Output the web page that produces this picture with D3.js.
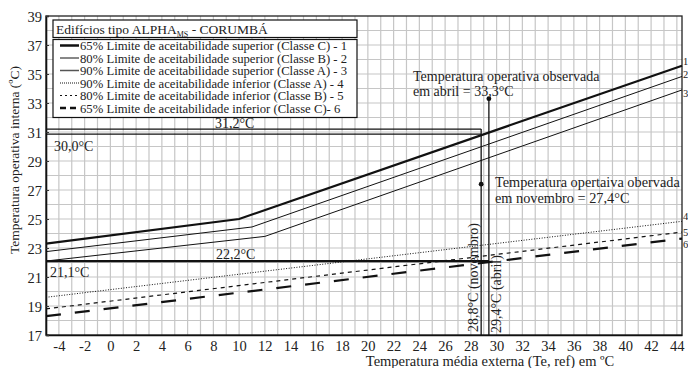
<!DOCTYPE html>
<html><head><meta charset="utf-8">
<script src="https://cdn.jsdelivr.net/npm/d3@7"></script>
<style>
html,body{margin:0;padding:0;background:#fff;}
svg{display:block;font-family:"Liberation Serif","Times New Roman",serif;}
</style></head>
<body><svg id="c" width="688" height="368"></svg>
<script>
// ---- data ----
const xDomain = [-5, 44.4];
const yDomain = [17, 39];
const xTicks = [-4,-2,0,2,4,6,8,10,12,14,16,18,20,22,24,26,28,30,32,34,36,38,40,42,44];
const yTicks = [17,19,21,23,25,27,29,31,33,35,37,39];
const seriesNames = [
  "65% Limite de aceitabilidade superior (Classe C) - 1",
  "80% Limite de aceitabilidade superior (Classe B) - 2",
  "90% Limite de aceitabilidade superior (Classe A) - 3",
  "90% Limite de aceitabilidade inferior (Classe A) - 4",
  "80% Limite de aceitabilidade inferior (Classe B) - 5",
  "65% Limite de aceitabilidade inferior (Classe C)- 6"
];
const endLabels = ["1","2","3","4","5","6"];
const s1Te = [-5, 10, 44.4], s1T = [23.3, 25.0, 35.57];
const s2Te = [-5, 11, 44.4], s2T = [22.75, 24.45, 34.83];
const s3Te = [-5, 12, 44.4], s3T = [22.1, 23.8, 33.9];
const s4Te = [-5, 44.4], s4T = [19.6, 24.84];
const s5Te = [-5, 44.4], s5T = [18.8, 24.1];
const s6Te = [-5, 44.4], s6T = [18.3, 23.65];
const obsTe = [28.8, 29.4];           // novembro, abril
const obsT = [27.4, 33.3];
const refLevels = [31.2, 30.85, 22.1];
const refEnds = [28.8, 28.8, 29.4];

// ---- setup ----
const svg = d3.select("#c");
const x = d3.scaleLinear().domain(xDomain).range([46, 682]);
const y = d3.scaleLinear().domain(yDomain).range([335, 16]);

// grid
const g = svg.append("g");
g.selectAll(".vg").data(d3.range(-4, 45)).join("line")
  .attr("x1", d=>x(d)).attr("x2", d=>x(d)).attr("y1", y(17)).attr("y2", y(39))
  .attr("stroke", "#c6c6c6").attr("stroke-width", 1.2);
g.selectAll(".hg").data(d3.range(18, 39)).join("line")
  .attr("y1", d=>y(d)).attr("y2", d=>y(d)).attr("x1", x(-5)).attr("x2", x(xDomain[1]))
  .attr("stroke", "#c6c6c6").attr("stroke-width", 1.2);

// frame
svg.append("rect").attr("x", x(-5)).attr("y", y(39)).attr("width", x(xDomain[1]) - x(-5))
  .attr("height", y(17) - y(39)).attr("fill", "none").attr("stroke", "#222").attr("stroke-width", 1.3);

// axes
const xAxis = d3.axisBottom(x).tickValues(xTicks).tickSize(0).tickPadding(5).tickFormat(d => String(d));
const yAxis = d3.axisLeft(y).tickValues(yTicks).tickSize(-3).tickPadding(4).tickFormat(d => String(d));
const gx = svg.append("g").attr("transform", `translate(0,${y(17)})`).call(xAxis);
const gy = svg.append("g").attr("transform", `translate(${x(-5)},0)`).call(yAxis);
[gx, gy].forEach(a => {
  a.select(".domain").attr("stroke", "#111").attr("stroke-width", 1.6);
  a.selectAll("text").attr("font-family", "Liberation Serif").attr("font-size", 14.5).attr("fill", "#222");
  a.selectAll(".tick line").attr("stroke", "#333");
});
gx.selectAll("text").attr("dy", "0.75em");
gy.selectAll("text").attr("dy", "0.35em");

// series lines
const line = d3.line().x(d=>x(d[0])).y(d=>y(d[1]));
const series = [
  {te:s1Te, t:s1T, w:2.2, dash:null},
  {te:s2Te, t:s2T, w:1.0, dash:null},
  {te:s3Te, t:s3T, w:1.0, dash:null},
  {te:s4Te, t:s4T, w:1.0, dash:"1,1.6"},
  {te:s5Te, t:s5T, w:1.2, dash:"4,4"},
  {te:s6Te, t:s6T, w:2.2, dash:"15,14"}
];
series.forEach(s => {
  svg.append("path").datum(s.te.map((v,i)=>[v, s.t[i]]))
    .attr("d", line).attr("fill", "none").attr("stroke", "#111")
    .attr("stroke-width", s.w).attr("stroke-dasharray", s.dash);
});

// reference horizontal lines
refLevels.forEach((lv, i) => {
  svg.append("line").attr("x1", x(-5)).attr("x2", x(refEnds[i]))
    .attr("y1", y(lv)).attr("y2", y(lv)).attr("stroke", "#111")
    .attr("stroke-width", i === 2 ? 2.2 : 1.3);
});

// observation verticals and points
obsTe.forEach((te, i) => {
  const top = i === 0 ? refLevels[0] : obsT[i];
  svg.append("line").attr("x1", x(te)).attr("x2", x(te)).attr("y1", y(17)).attr("y2", y(top))
    .attr("stroke", "#111").attr("stroke-width", 1.3);
  svg.append("circle").attr("cx", x(te)).attr("cy", y(obsT[i])).attr("r", 2.4).attr("fill", "#111");
});

// end labels
const endT = [s1T[2], s2T[2], s3T[2], s4T[1], s5T[1], s6T[1]];
const endOff = [-5, -2, 3, -5, 0, 5];
endLabels.forEach((l, i) => {
  svg.append("text").attr("x", x(xDomain[1]) + 1).attr("y", y(endT[i]) + endOff[i] + 4)
    .attr("font-size", 10.5).attr("fill", "#222").text(l);
});

// annotations
const ann = (tx, ty, str, size=14, rot=0) => {
  const t = svg.append("text").attr("font-size", size).attr("fill", "#222").text(str);
  if (rot) t.attr("transform", `translate(${tx},${ty}) rotate(${rot})`);
  else t.attr("x", tx).attr("y", ty);
  return t;
};
ann(413, 81, "Temperatura operativa observada");
ann(413, 96, "em abril = 33,3°C");
ann(495, 187, "Temperatura opertaiva obervada", 14.3);
ann(495, 203, "em novembro = 27,4°C", 14.3);
ann(215, 128, "31,2°C");
ann(54, 151, "30,0°C");
ann(216, 259, "22,2°C");
ann(50, 277, "21,1°C");
ann(478, 332, "28,8°C (novembro)", 14, -90);
ann(501, 333, "29,4°C (abril)", 14, -90);

// axis titles
svg.append("text").attr("x", 490).attr("y", 366).attr("text-anchor", "middle")
  .attr("font-size", 14.5).attr("fill", "#222").text("Temperatura média externa (Te, ref) em ºC");
svg.append("text").attr("transform", "translate(19,160) rotate(-90)").attr("text-anchor", "middle")
  .attr("font-size", 13.5).attr("fill", "#222").text("Temperatura operativa interna (ºC)");

// legend
const lg = svg.append("g");
lg.append("rect").attr("x", 53).attr("y", 20).attr("width", 304).attr("height", 17.5)
  .attr("fill", "#fff").attr("stroke", "#111").attr("stroke-width", 1.2);
const tt = lg.append("text").attr("x", 56).attr("y", 34).attr("font-size", 13.5).attr("fill", "#222");
tt.append("tspan").text("Edifícios tipo ALPHA");
tt.append("tspan").attr("font-size", 8).attr("dy", 3).text("MS");
tt.append("tspan").attr("dy", -3).text("  - CORUMBÁ");
lg.append("rect").attr("x", 53).attr("y", 39.5).attr("width", 304).attr("height", 78)
  .attr("fill", "#fff").attr("stroke", "#111").attr("stroke-width", 1.2);
const rowY = d3.range(6).map(i => 45.5 + i * 12.5);
const legDash = [null, null, null, "1,1", "2,3", "6,4"];
const legW = [2.5, 1.0, 1.5, 1.0, 1.2, 2.5];
seriesNames.forEach((n, i) => {
  lg.append("line").attr("x1", 60).attr("x2", 79).attr("y1", rowY[i]).attr("y2", rowY[i])
    .attr("stroke", i === 2 ? "#555" : "#111").attr("stroke-width", legW[i]).attr("stroke-dasharray", legDash[i]);
  lg.append("text").attr("x", 80).attr("y", rowY[i] + 4.5).attr("font-size", 12.7).attr("fill", "#222").text(n);
});
</script></body></html>
